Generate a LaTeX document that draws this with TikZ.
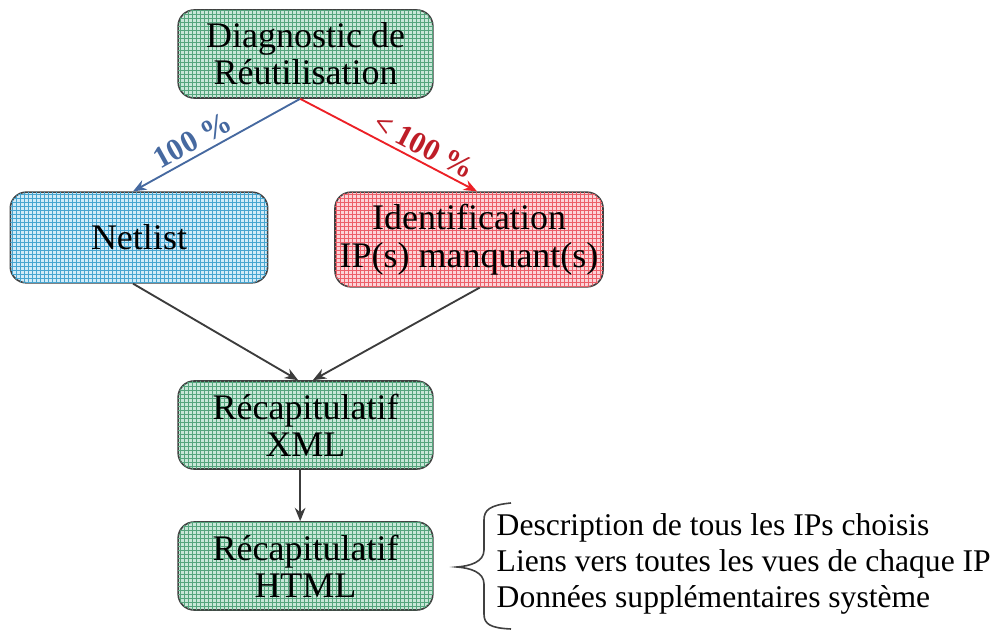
\documentclass[tikz,border=0pt]{standalone}
\usepackage{fontspec}
\setmainfont{Liberation Serif}
\usetikzlibrary{arrows.meta,positioning,patterns}
\definecolor{gbg}{RGB}{200,231,216}
\definecolor{gln}{RGB}{85,165,125}
\definecolor{bbg}{RGB}{208,235,248}
\definecolor{bln}{RGB}{70,165,208}
\definecolor{rbg}{RGB}{252,212,216}
\definecolor{rln}{RGB}{236,95,105}
\definecolor{arrblue}{RGB}{70,105,160}
\definecolor{arrred}{RGB}{236,32,38}
\definecolor{lblred}{RGB}{190,30,40}
\definecolor{arrgray}{RGB}{60,60,60}

\begin{document}
\begin{tikzpicture}[x=0.75pt, y=-0.75pt,
    box/.style={rectangle, rounded corners=12pt, draw=black!75, line width=1.2pt, align=center,
        minimum width=191pt, minimum height=66pt, font=\fontsize{27}{28}\selectfont},
    greenbox/.style={box, fill=gbg, postaction={pattern=grid, pattern color=gln}},
    bluebox/.style={box, fill=bbg, postaction={pattern=grid, pattern color=bln}},
    redbox/.style={box, fill=rbg, postaction={pattern=grid, pattern color=rln}},
    link/.style={line width=1.4pt, -{Stealth[length=10pt, width=8pt]}},
    pct/.style={font=\fontsize{23}{24}\selectfont\bfseries, sloped, above}
]
    \useasboundingbox (0,0) rectangle (996,630);

    % Boxes
    \node[greenbox] (diag) at (305.5,54) {Diagnostic de\\Réutilisation};
    \node[bluebox, minimum width=193pt, minimum height=68pt] (net) at (139,237.5) {Netlist};
    \node[redbox, minimum width=201pt, minimum height=71pt] (ident) at (469,239.5) {Identification\\IP(s) manquant(s)};
    \node[greenbox] (xml) at (305.5,425) {Récapitulatif\\XML};
    \node[greenbox] (html) at (305.5,566) {Récapitulatif\\HTML};

    % Arrows
    \draw[link, arrblue] ([xshift=-4pt]diag.south) -- ([xshift=-4.5pt]net.north)
        node[pct, pos=0.6, text=arrblue] (lbl100) {100 \%};
    \draw[link, arrred] ([xshift=-4pt]diag.south) -- ([xshift=6pt]ident.north)
        node[pct, pos=0.66, text=lblred] (lbllt) {< 100 \%};
    \draw[link, arrgray] ([xshift=-4.5pt]net.south) -- ([xshift=-5.5pt]xml.north);
    \draw[link, arrgray] ([xshift=8pt]ident.south) -- ([xshift=5.5pt]xml.north);
    \draw[link, arrgray] ([xshift=-4pt]xml.south) -- ([xshift=-4pt]html.north);

    % Brace and notes
    \node[anchor=west, align=left, font=\fontsize{23.7}{27}\selectfont] (notes) at (492,564)
        {Description de tous les IPs choisis\\Liens vers toutes les vues de chaque IP\\Données supplémentaires système};
    \draw[line width=1.2pt, black!75] (511,503) .. controls (490,505) and (484,510) .. (484,520)
        -- (484,550) .. controls (484,562) and (470,566) .. (457,567)
        .. controls (470,568) and (484,572) .. (484,584)
        -- (484,614) .. controls (484,624) and (490,628) .. (511,629);
\end{tikzpicture}
\end{document}
